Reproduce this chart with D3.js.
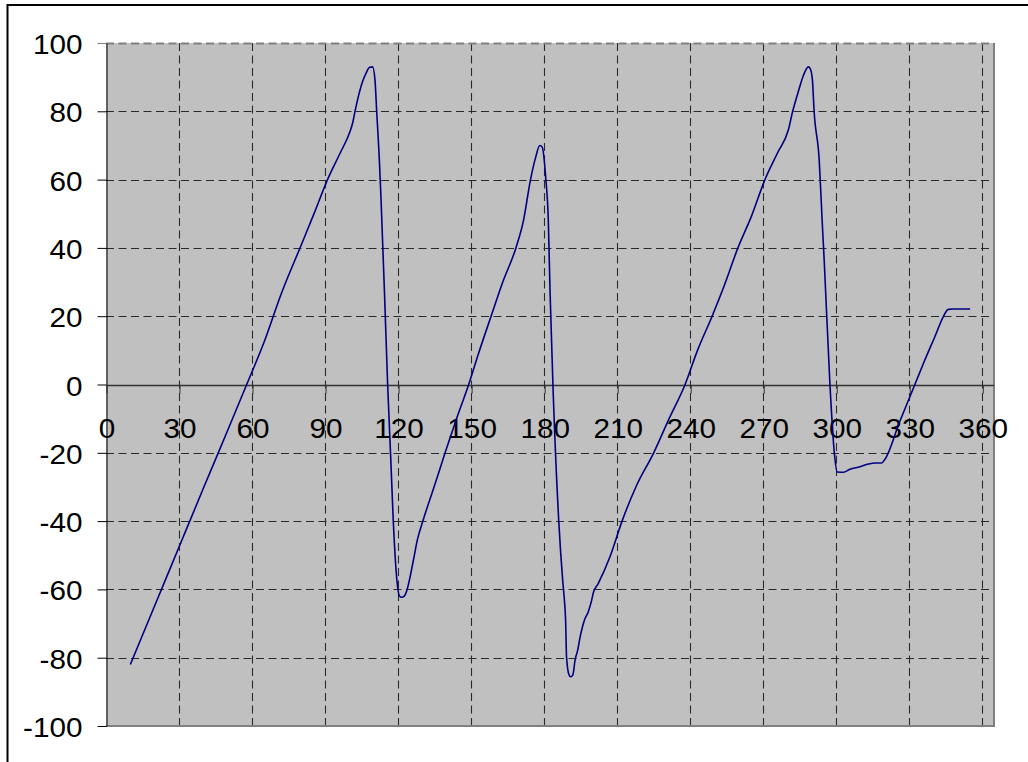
<!DOCTYPE html>
<html>
<head>
<meta charset="utf-8">
<script src="https://cdn.jsdelivr.net/npm/d3@7"></script>
<style>
  html, body { margin: 0; padding: 0; background: #ffffff; }
  svg { display: block; }
  text { font-family: "Liberation Sans", Arial, sans-serif; fill: #000; }
</style>
</head>
<body>
<svg id="chart" width="1028" height="762"></svg>
<script>
// ---- data ----
const xValues = [10, 20, 30, 40, 50, 57.8, 65, 72, 80, 86, 91, 96, 100.2, 101.3, 102.3, 105.4, 106.8, 108.2, 109.5, 110.5, 111.2, 112.3, 113, 114.5, 115.7, 117, 118, 119.8, 120.6, 121.5, 122.5, 123.5, 126.3, 127.9, 130.3, 135, 139.3, 144, 149, 153, 158.2, 163, 168.4, 171.5, 174.4, 176.5, 178.2, 179.2, 180.7, 181.7, 182.4, 183.6, 186, 187.6, 188.3, 188.8, 189.2, 190.2, 190.9, 191.8, 192.7, 193.8, 194.7, 196.5, 198.1, 199.5, 200.2, 202.2, 207, 212, 218, 225, 231, 237.9, 243, 249, 254, 259.6, 265, 270.7, 276, 280.3, 282.1, 284.5, 286.5, 288.5, 289.3, 290.2, 290.9, 293, 294.2, 295.1, 297.4, 299.2, 300.4, 302.9, 305.6, 309.7, 313.2, 315.9, 318.6, 320, 326, 332.3, 336, 340.5, 344, 346, 348.1, 355];
const yValues = [-82, -64.8, -47.6, -30.4, -13.4, 0, 12.5, 26.6, 40.5, 51, 60, 67.5, 74, 76.5, 80, 88.7, 91.1, 92.8, 93, 89.2, 80, 65.7, 54, 25, 0, -22, -39.7, -59.3, -62, -62.3, -62, -60.5, -51.4, -45.5, -39.7, -29.5, -20, -10, 0, 9, 20, 30, 40, 48, 60, 66.5, 70, 69.5, 60, 48.2, 27.7, 0, -40, -57.2, -63, -68.9, -79.8, -85, -85.6, -85, -80.7, -77.7, -74.2, -69.1, -66.6, -63.2, -61, -58.3, -50.5, -40, -29.5, -20, -10.5, 0, 10, 20, 29, 40, 49, 60, 68, 74.5, 80, 86, 90.5, 93, 92.5, 89.2, 80, 65.7, 48, 35.5, 0, -20, -25.6, -25.7, -24.8, -24.1, -23.3, -23, -23, -21.9, -11, 0, 6.5, 14, 19.9, 22, 22.1, 22.1];
const xTicks = [0, 30, 60, 90, 120, 150, 180, 210, 240, 270, 300, 330, 360];
const yTicks = [-100, -80, -60, -40, -20, 0, 20, 40, 60, 80, 100];

// ---- layout ----
const svg = d3.select("#chart");
const L = 106, R = 994, T = 43, B = 726;
const x = d3.scaleLinear().domain([0, 364.8]).range([L, R]);
const y = d3.scaleLinear().domain([-100, 100]).range([B, T]);
const points = xValues.map((v, i) => [v, yValues[i]]);
const fmt = d => String(d);

// outer frame
svg.append("rect").attr("x", 7.5).attr("y", 5).attr("width", 1040).attr("height", 780)
  .attr("fill", "none").attr("stroke", "#000").attr("stroke-width", 2);

// plot area
svg.append("rect").attr("x", L).attr("y", T).attr("width", R - L).attr("height", B - T)
  .attr("fill", "#c0c0c0");

// grid lines
const grid = svg.append("g");
grid.selectAll(".vg").data(xTicks.filter(d => d > 0)).enter().append("line")
  .attr("x1", d => Math.round(x(d)) + 0.5).attr("x2", d => Math.round(x(d)) + 0.5)
  .attr("y1", T).attr("y2", B)
  .attr("stroke", "#2a2a2a").attr("stroke-width", 1.1).attr("stroke-dasharray", "8,4.5");
grid.selectAll(".hg").data(yTicks.filter(d => d !== 0 && d !== -100)).enter().append("line")
  .attr("x1", L).attr("x2", R)
  .attr("y1", d => Math.round(y(d)) + 0.5).attr("y2", d => Math.round(y(d)) + 0.5)
  .attr("stroke", d => d === 100 ? "#808080" : "#2a2a2a").attr("stroke-width", d => d === 100 ? 2 : 1.1)
  .attr("stroke-dasharray", "8,4.5");

// plot border (right, bottom)
svg.append("line").attr("x1", R).attr("x2", R).attr("y1", T).attr("y2", B + 1)
  .attr("stroke", "#808080").attr("stroke-width", 2);
svg.append("line").attr("x1", L).attr("x2", R + 1).attr("y1", B).attr("y2", B)
  .attr("stroke", "#808080").attr("stroke-width", 2);

// y axis
const yAxis = d3.axisLeft(y).tickValues(yTicks).tickSize(9).tickSizeOuter(0).tickFormat(fmt);
const ya = svg.append("g").attr("transform", `translate(${L + 0.5},0)`).call(yAxis);
ya.select(".domain").attr("stroke", "#000").attr("stroke-width", 1);
ya.selectAll(".tick line").attr("stroke", d => d === 100 ? "#808080" : "#000");
ya.selectAll(".tick text")
  .attr("x", null).attr("dy", null)
  .attr("font-size", "27px")
  .attr("text-anchor", "end")
  .attr("transform", "translate(-24,10.5) scale(1.1,1)");

// x axis along zero line
const y0 = Math.round(y(0)) + 0.5;
const xAxis = d3.axisBottom(x).tickValues(xTicks).tickSize(8).tickSizeOuter(0).tickFormat(fmt);
const xa = svg.append("g").attr("transform", `translate(0.5,${y0})`).call(xAxis);
xa.select(".domain").remove();
svg.append("line").attr("x1", L).attr("x2", R).attr("y1", y0).attr("y2", y0)
  .attr("stroke", "#333").attr("stroke-width", 1.3);
xa.selectAll(".tick line").attr("stroke", "#333");
xa.selectAll(".tick text")
  .attr("y", null).attr("dy", null)
  .attr("font-size", "27px")
  .attr("text-anchor", "middle")
  .attr("transform", "translate(0,52.5) scale(1.1,1)");

// data line
const line = d3.line().x(d => x(d[0])).y(d => y(d[1])).curve(d3.curveMonotoneX);
svg.append("path").datum(points).attr("d", line)
  .attr("fill", "none").attr("stroke", "#000080").attr("stroke-width", 1.6);
</script>
</body>
</html>
